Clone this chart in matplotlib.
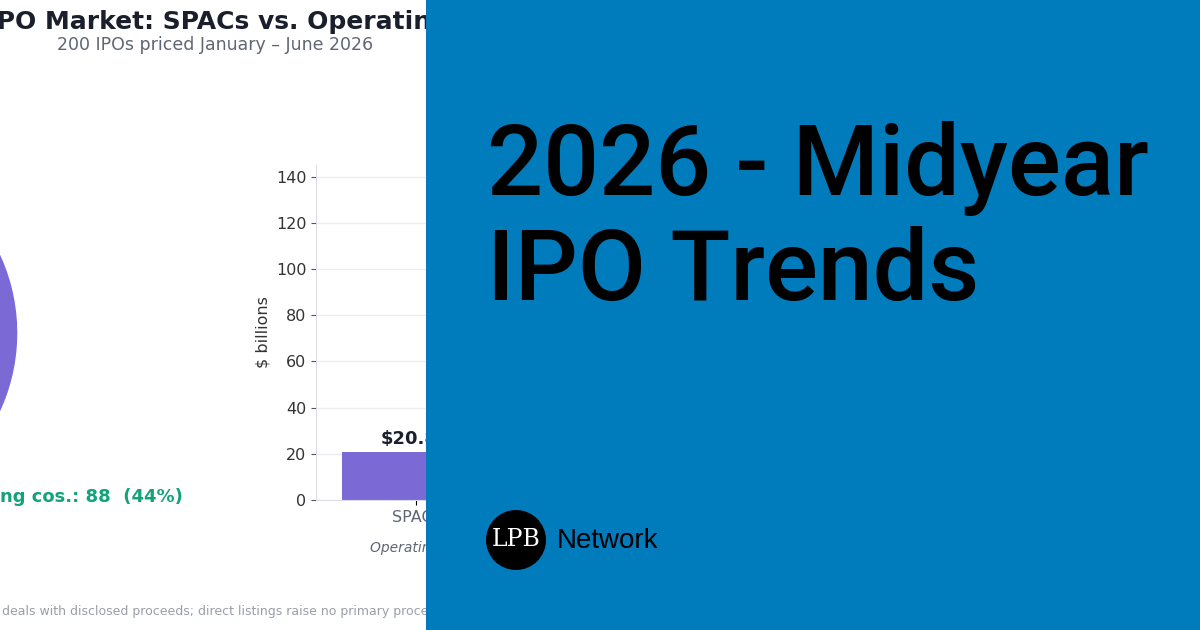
import matplotlib.pyplot as plt
from matplotlib.patches import Rectangle, Circle

W, H = 1200, 630

counts = {"SPACs": 112, "Operating cos.": 88}
proceeds = {"SPACs": 20.8, "Operating cos.": 118.0}
purple, green = "#7B6AD6", "#12A37A"


def fx(px):
    return px / W


def fy(py):
    return 1 - py / H


fig = plt.figure(figsize=(12, 6.3), dpi=100)
fig.patch.set_facecolor("white")

# title block
fig.text(fx(237), fy(22), "H1 2026 IPO Market: SPACs vs. Operating Companies",
         ha="center", va="center", fontsize=18, fontweight="bold", color="#1a1f2b")
fig.text(fx(215), fy(45), "200 IPOs priced January \u2013 June 2026",
         ha="center", va="center", fontsize=12.5, color="#5f6673")

# pie, mostly off the left edge
total = sum(counts.values())
ax_pie = fig.add_axes([fx(-356), fy(520), fx(374), 374 / H])
ax_pie.pie(list(counts.values()), colors=[purple, green], startangle=90,
           counterclock=False, wedgeprops=dict(edgecolor="white"))
ax_pie.set_xlim(-1, 1)
ax_pie.set_ylim(-1, 1)
ax_pie.set_aspect("auto")
op = counts["Operating cos."]
lab = f"Operating cos.: {op}  ({op / total:.0%})"
fig.text(fx(0), fy(497), lab[7:], ha="left", va="center", fontsize=13,
         fontweight="bold", color=green)
fig.text(fx(0), fy(497), lab[:7], ha="right", va="center", fontsize=13,
         fontweight="bold", color=green)

# bars
ax = fig.add_axes([fx(316), fy(500), fx(420), (500 - 165) / H])
names = list(proceeds.keys())
vals = list(proceeds.values())
ax.bar(range(len(names)), vals, width=0.7, color=[purple, green])
for i, v in enumerate(vals):
    ax.text(i, v + 1.5, f"${v:.1f}B", ha="center", va="bottom", fontsize=13,
            fontweight="bold", color="#1a1f2b")
ax.set_xlim(-0.47, 1.5)
ax.set_ylim(0, 145)
ax.set_yticks(range(0, 141, 20))
ax.set_xticks(range(len(names)))
ax.set_xticklabels(names, fontsize=11.5, color="#5f6673")
ax.tick_params(axis="y", labelsize=11.5, labelcolor="#333333", color="#555555")
ax.set_ylabel("$ billions", fontsize=11.5, color="#333333")
ax.set_xlabel("Operating companies raised far more capital", fontsize=10,
              style="italic", color="#5f6673", labelpad=12)
ax.grid(axis="y", color="#ececf2", linewidth=1)
ax.set_axisbelow(True)
for s in ["top", "right"]:
    ax.spines[s].set_visible(False)
for s in ["left", "bottom"]:
    ax.spines[s].set_color("#dcdce6")

fig.text(fx(2), fy(612), "deals with disclosed proceeds; direct listings raise no primary proceeds.",
         ha="left", va="center", fontsize=9, color="#9a9ea8")
fig.text(fx(2), fy(612), "Proceeds reflect IPO ", ha="right", va="center",
         fontsize=9, color="#9a9ea8")

# blue overlay panel
fig.patches.append(Rectangle((fx(426), 0), 1 - fx(426), 1, transform=fig.transFigure,
                             facecolor="#007BBB", edgecolor="none", zorder=10))
for txt, base in [("2026 - Midyear", 195), ("IPO Trends", 300)]:
    fig.text(fx(487), fy(base), txt, ha="left", va="baseline", fontsize=71,
             family="Roboto", fontweight=500, color="black", zorder=11)
logo = Circle((5.16, 6.3 - 5.40), 0.30, transform=fig.dpi_scale_trans,
              facecolor="black", edgecolor="none", zorder=11)
fig.patches.append(logo)
fig.text(fx(516), fy(540), "LPB", ha="center", va="center", fontsize=17,
         family="DejaVu Serif", color="white", zorder=12)
fig.text(fx(557), fy(541), "Network", ha="left", va="center", fontsize=20,
         family="Liberation Sans", color="black", zorder=11)

fig.savefig("out.png", dpi=100)
